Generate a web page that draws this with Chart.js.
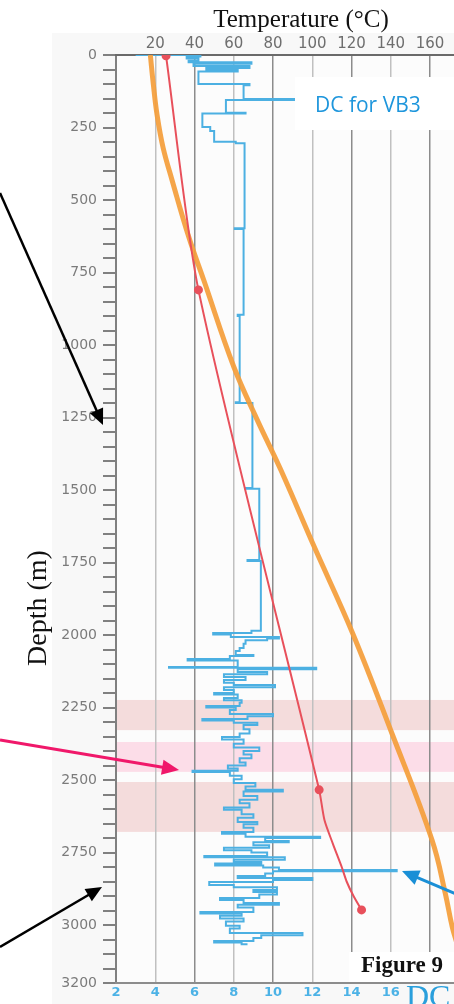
<!DOCTYPE html>
<html>
<head>
<meta charset="utf-8">
<script src="https://cdn.jsdelivr.net/npm/chart.js@4.4.0/dist/chart.umd.min.js"></script>
<style>
  html, body { margin: 0; padding: 0; background: #fff; }
  canvas { display: block; }
</style>
</head>
<body>
<canvas id="grafico_dc" width="454" height="1004"></canvas>
<script>
// tick labels
const depthLabels = [0, 250, 500, 750, 1000, 1250, 1500, 1750, 2000, 2250, 2500, 2750, 3000, 3200];
const tempLabels = [20, 40, 60, 80, 100, 120, 140, 160];
const dcLabels = [2, 4, 6, 8, 10, 12, 14, 16];

// DC log for VB3: depth where a new value starts, and the value
const dcDepth = [0, 0, 5, 12, 20, 25, 30, 38, 45, 52, 57, 100, 104, 152, 155, 199, 202, 248, 262, 299, 304,
  597, 600, 896, 900, 1197, 1200, 1493, 1496, 1741, 1745, 1985, 1993, 1998, 2007, 2012, 2018, 2030, 2045,
  2055, 2069, 2072, 2083, 2088, 2110, 2113, 2118, 2128, 2135, 2145, 2155, 2165, 2172, 2180, 2190, 2200,
  2205, 2217, 2225, 2234, 2245, 2250, 2259, 2272, 2280, 2290, 2295, 2303, 2310, 2325, 2340, 2352, 2360,
  2375, 2388, 2400, 2412, 2425, 2440, 2450, 2460, 2468, 2472, 2485, 2497, 2510, 2522, 2534, 2540, 2555,
  2568, 2580, 2595, 2603, 2618, 2630, 2645, 2653, 2665, 2679, 2685, 2696, 2700, 2710, 2715, 2725, 2734,
  2742, 2750, 2762, 2766, 2775, 2783, 2788, 2795, 2802, 2810, 2815, 2822, 2831, 2838, 2845, 2852, 2862,
  2870, 2879, 2886, 2895, 2907, 2914, 2924, 2930, 2940, 2955, 2960, 2968, 2978, 2988, 3003, 3012, 3028,
  3035, 3045, 3055, 3060, 3066];
const dcValue = [3.0, 6.3, 5.6, 6.2, 5.7, 8.9, 5.95, 8.8, 6.6, 8.2, 6.2, 8.8, 8.5, 11.2, 7.6, 8.6, 6.4, 6.8, 7.0, 8.1, 8.55,
  8.05, 8.5, 8.2, 8.3, 8.1, 8.95, 8.6, 9.3, 8.7, 9.38, 8.9, 6.95, 7.85, 10.3, 9.7, 8.6, 8.5, 8.3,
  8.1, 9.0, 7.8, 5.65, 8.2, 4.7, 12.2, 8.2, 9.7, 7.5, 8.6, 7.5, 8.0, 10.1, 7.5, 8.0, 7.0,
  8.2, 7.5, 8.4, 8.3, 6.6, 8.1, 7.8, 10.0, 8.7, 6.4, 8.0, 9.2, 8.5, 8.8, 8.3, 7.4, 8.5,
  8.0, 9.3, 8.5, 8.9, 8.3, 8.6, 7.7, 8.2, 5.9, 7.8, 8.4, 8.0, 9.1, 8.6, 10.5, 8.5, 9.2,
  8.3, 8.8, 7.5, 8.4, 9.0, 8.2, 9.2, 8.5, 9.0, 7.4, 8.6, 12.4, 9.6, 10.8, 9.0, 9.8, 7.5,
  8.9, 9.7, 6.5, 10.6, 8.0, 9.4, 7.05, 9.5, 10.3, 16.3, 10.0, 9.6, 8.2, 12.0, 10.0, 6.75, 8.0,
  10.2, 9.0, 10.2, 9.3, 7.3, 8.5, 10.3, 8.2, 9.0, 6.3, 8.4, 7.3, 8.5, 7.6, 8.3, 7.8, 11.5,
  9.4, 9.0, 7.0, 8.4, 8.7];

// temperature curves
const orangeTemp = [17.5, 19, 21, 24, 28.5, 37, 44.7, 60, 72, 84, 101, 120.5, 140.5, 161, 167.7, 171.3, 174];
const orangeDepth = [0, 100, 210, 320, 430, 626, 776, 1075, 1259, 1431, 1696, 1993, 2338, 2707, 2889, 3007, 3070];
const redTemp = [25.5, 42, 103.5, 106.2, 110.5, 115, 117.5, 121, 125.1];
const redDepth = [3, 810, 2534, 2638, 2720, 2800, 2850, 2900, 2948];
const redDotDepths = [3, 810, 2534, 2948];

// shaded depth intervals
const bandTop = [2224, 2369, 2507];
const bandBottom = [2328, 2472, 2679];
const bandColors = ['#f4dcdc', '#fcdde8', '#f4dcdc'];

const dcMax = 19.22;
const tempMax = (dcMax - 2) * 10;

// step line: hold the value down to the next depth, then jump
const dcPoints = [];
dcDepth.forEach((d, i) => {
    if (i > 0) dcPoints.push({ x: dcValue[i - 1], y: d });
    dcPoints.push({ x: dcValue[i], y: d });
});

function arrow(c, x0, y0, x1, y1, color, w, head) {
    const a = Math.atan2(y1 - y0, x1 - x0);
    const cs = Math.cos(a), sn = Math.sin(a);
    c.strokeStyle = color;
    c.fillStyle = color;
    c.lineWidth = w;
    c.beginPath();
    c.moveTo(x0, y0);
    c.lineTo(x1 - head * 0.8 * cs, y1 - head * 0.8 * sn);
    c.stroke();
    c.beginPath();
    c.moveTo(x1, y1);
    c.lineTo(x1 - head * cs + head * 0.45 * sn, y1 - head * sn - head * 0.45 * cs);
    c.lineTo(x1 - head * cs - head * 0.45 * sn, y1 - head * sn + head * 0.45 * cs);
    c.closePath();
    c.fill();
}

// no extra margins, chart area fixed by the afterFit sizes
function noPad(s) {
    s.paddingLeft = 0;
    s.paddingRight = 0;
    s.paddingTop = 0;
    s.paddingBottom = 0;
}

const extras = {
    id: 'extras',
    beforeDraw(chart) {
        const c = chart.ctx, a = chart.chartArea, y = chart.scales.y;
        c.save();
        c.fillStyle = '#f8f8f8';
        c.fillRect(52, 33, chart.width - 52, chart.height - 33);
        c.fillStyle = '#fcfcfc';
        c.fillRect(a.left, a.top, a.right - a.left, a.bottom - a.top);
        bandTop.forEach((t, i) => {
            const y0 = y.getPixelForValue(t), y1 = y.getPixelForValue(bandBottom[i]);
            c.fillStyle = bandColors[i];
            c.fillRect(a.left, y0, a.right - a.left, y1 - y0);
        });
        c.restore();
    },
    afterDatasetsDraw(chart) {
        const c = chart.ctx;
        c.save();
        c.fillStyle = '#ffffff';
        c.fillRect(295, 77, 159, 53);
        c.fillRect(349, 952, 105, 30);
        c.fillStyle = '#1e96dc';
        c.font = '21px "Open Sans"';
        c.textBaseline = 'alphabetic';
        c.fillText('DC for VB3', 315, 112);
        c.restore();
    },
    afterDraw(chart) {
        const c = chart.ctx;
        c.save();
        c.fillStyle = '#111';
        c.textAlign = 'center';
        c.textBaseline = 'alphabetic';
        c.font = '25px "Liberation Serif"';
        c.fillText('Temperature (°C)', 301, 27);
        c.save();
        c.translate(46, 608);
        c.rotate(-Math.PI / 2);
        c.font = '28px "Liberation Serif"';
        c.fillText('Depth (m)', 0, 0);
        c.restore();
        c.textAlign = 'left';
        c.font = 'bold 23px "Liberation Serif"';
        c.fillText('Figure 9', 361, 972);
        c.fillStyle = '#2a9fdc';
        c.font = '32px "Liberation Serif"';
        c.fillText('DC', 406, 1007);

        arrow(c, 0, 193, 103, 425, '#000', 2.5, 16);
        arrow(c, 0, 740, 179, 770, '#f0186a', 3, 17);
        arrow(c, 0, 947, 102, 887, '#000', 2.5, 16);
        arrow(c, 456, 894, 402, 871, '#1a8fd6', 3, 17);
        c.restore();
    }
};

const ctx = document.getElementById('grafico_dc');
new Chart(ctx, {
    type: 'line',
    data: {
        datasets: [{
            label: 'Temperature (red)',
            data: redTemp.map((t, i) => ({ x: t, y: redDepth[i] })),
            xAxisID: 'x2',
            borderColor: '#e8505b',
            backgroundColor: '#e8505b',
            borderWidth: 2,
            tension: 0.25,
            pointRadius: c => redDotDepths.includes(redDepth[c.dataIndex]) ? 4.5 : 0,
            pointBorderWidth: 0
        }, {
            label: 'Temperature (orange)',
            data: orangeTemp.map((t, i) => ({ x: t, y: orangeDepth[i] })),
            xAxisID: 'x2',
            borderColor: 'rgba(244,157,57,0.92)',
            borderWidth: 5,
            tension: 0.4,
            pointRadius: 0
        }, {
            label: 'DC',
            data: dcPoints,
            xAxisID: 'x',
            borderColor: '#4cb0e2',
            borderWidth: 2,
            tension: 0,
            pointRadius: 0
        }]
    },
    options: {
        responsive: false,
        animation: false,
        indexAxis: 'y',
        layout: { padding: 0, autoPadding: false },
        plugins: { legend: { display: false }, tooltip: { enabled: false } },
        scales: {
            y: {
                type: 'linear',
                reverse: true,
                min: 0,
                max: 3200,
                afterFit(s) { s.width = 116; noPad(s); },
                ticks: {
                    stepSize: 50,
                    autoSkip: false,
                    padding: 6,
                    color: '#7b7b7b',
                    font: { family: 'DejaVu Sans', size: 14 },
                    callback: v => depthLabels.includes(v) ? v : ''
                },
                grid: { drawOnChartArea: false, tickLength: 13, color: '#808080', lineWidth: 2 },
                border: { color: '#808080', width: 2 }
            },
            x: {
                type: 'linear',
                position: 'bottom',
                min: 2,
                max: dcMax,
                afterFit(s) { s.height = 21; noPad(s); },
                ticks: {
                    stepSize: 2,
                    includeBounds: false,
                    autoSkip: false,
                    maxRotation: 0,
                    padding: 2,
                    color: '#4cb2e6',
                    font: { family: 'DejaVu Sans', size: 13, weight: 'bold' },
                    callback: v => dcLabels.includes(v) ? v : ''
                },
                grid: {
                    drawTicks: false,
                    lineWidth: 1.5,
                    color: c => (c.tick && c.tick.value % 4 === 2) ? '#8c8c8c' : '#c0c0c0'
                },
                border: { color: '#8c8c8c', width: 2 }
            },
            x2: {
                type: 'linear',
                position: 'top',
                min: 0,
                max: tempMax,
                afterFit(s) { s.height = 55; noPad(s); },
                ticks: {
                    stepSize: 20,
                    includeBounds: false,
                    autoSkip: false,
                    maxRotation: 0,
                    padding: 2,
                    color: '#6e6e6e',
                    font: { family: 'DejaVu Sans', size: 15 },
                    callback: v => tempLabels.includes(v) ? v : ''
                },
                grid: { display: false, drawTicks: false },
                border: { color: '#6a6a6a', width: 2 }
            }
        }
    },
    plugins: [extras]
});
</script>
</body>
</html>
